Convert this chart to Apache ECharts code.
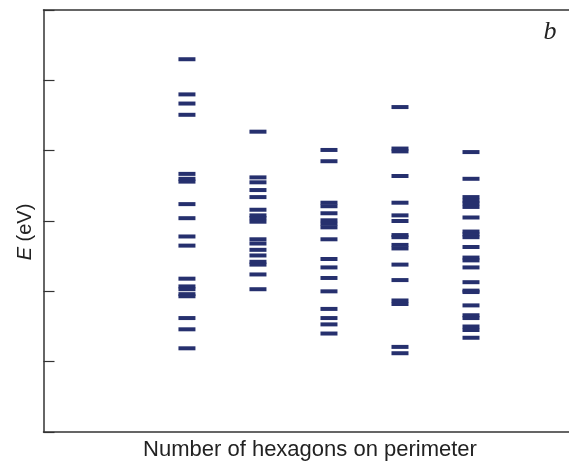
<!DOCTYPE html>
<html>
<head>
<meta charset="utf-8">
<script src="https://cdn.jsdelivr.net/npm/echarts@6/dist/echarts.min.js"></script>
<style>
html,body{margin:0;padding:0;background:#fff;}
#chart{width:569px;height:462px;}
</style>
</head>
<body>
<div id="chart"></div>
<script>
// Energy levels (eV) for each structure (column)
var columns = [1, 2, 3, 4, 5];
var levels1 = [2.30, 1.80, 1.67, 1.51, 0.67, 0.60, 0.56, 0.24, 0.04, -0.22, -0.35, -0.82, -0.93, -0.97, -1.04, -1.07, -1.38, -1.54, -1.81];
var levels2 = [1.27, 0.62, 0.55, 0.44, 0.34, 0.16, 0.08, 0.04, -0.01, -0.26, -0.32, -0.41, -0.49, -0.58, -0.62, -0.76, -0.97];
var levels3 = [1.01, 0.85, 0.26, 0.21, 0.11, 0.01, -0.04, -0.09, -0.26, -0.54, -0.66, -0.81, -1.00, -1.25, -1.38, -1.47, -1.60];
var levels4 = [1.62, 1.03, 0.99, 0.64, 0.26, 0.08, 0.00, -0.20, -0.23, -0.34, -0.39, -0.62, -0.84, -1.13, -1.18, -1.79, -1.88];
var levels5 = [0.98, 0.60, 0.34, 0.29, 0.25, 0.20, 0.05, -0.15, -0.19, -0.23, -0.37, -0.52, -0.56, -0.66, -0.87, -0.99, -1.01, -1.20, -1.34, -1.38, -1.50, -1.55, -1.66];
var allLevels = [levels1, levels2, levels3, levels4, levels5];

var xTitle = 'Number of hexagons on perimeter';
var panelLabel = 'b';

var data = [];
allLevels.forEach(function (arr, i) {
  arr.forEach(function (e) { data.push([columns[i], e]); });
});

var chart = echarts.init(document.getElementById('chart'), null, {renderer: 'canvas'});
var axisColor = '#333333';
chart.setOption({
  animation: false,
  grid: {left: 43.5, top: 10, right: 0, bottom: 30, containLabel: false},
  xAxis: [{
    type: 'value', min: -1.02, max: 6.38, position: 'bottom',
    axisLine: {show: true, onZero: false, lineStyle: {color: axisColor, width: 1.5}},
    axisTick: {show: false}, axisLabel: {show: false}, splitLine: {show: false}
  }, {
    type: 'value', min: -1.02, max: 6.38, position: 'top',
    axisLine: {show: true, onZero: false, lineStyle: {color: axisColor, width: 1.5}},
    axisTick: {show: false}, axisLabel: {show: false}, splitLine: {show: false}
  }],
  yAxis: {
    type: 'value', min: -3, max: 3, interval: 1,
    axisLine: {show: true, onZero: false, lineStyle: {color: axisColor, width: 1.5}},
    axisTick: {show: true, inside: true, length: 11, lineStyle: {color: axisColor, width: 1.2}},
    axisLabel: {show: false}, splitLine: {show: false}
  },
  series: [{
    type: 'scatter',
    xAxisIndex: 0,
    data: data,
    symbol: 'rect',
    symbolSize: [17, 4],
    itemStyle: {color: '#26306e', opacity: 1},
    silent: true
  }],
  graphic: [{
    type: 'text', x: 310, y: 450,
    style: {text: xTitle, font: '22px "Liberation Sans", Arial, sans-serif', fill: '#222', textAlign: 'center', textVerticalAlign: 'middle'}
  }, {
    type: 'text', x: 25, y: 232, rotation: Math.PI / 2,
    style: {
      text: '{i|E} (eV)', font: '20px "Liberation Sans", Arial, sans-serif', fill: '#222',
      textAlign: 'center', textVerticalAlign: 'middle',
      rich: {i: {fontStyle: 'italic', font: 'italic 20px "Liberation Sans", Arial, sans-serif', fill: '#222'}}
    }
  }, {
    type: 'text', x: 550, y: 32,
    style: {text: panelLabel, font: 'italic 26px "Liberation Serif", "Times New Roman", serif', fill: '#222', textAlign: 'center', textVerticalAlign: 'middle'}
  }]
});
</script>
</body>
</html>
